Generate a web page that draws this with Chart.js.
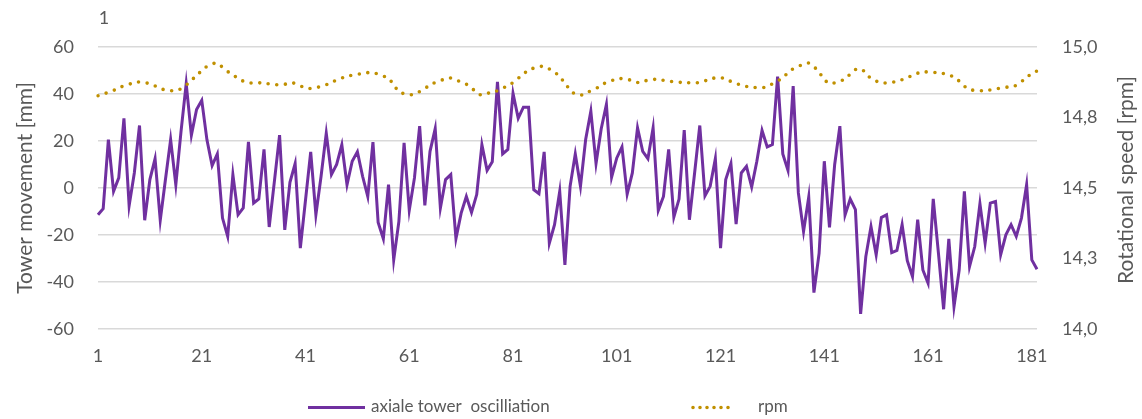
<!DOCTYPE html>
<html>
<head>
<meta charset="utf-8">
<script src="https://cdn.jsdelivr.net/npm/chart.js@4"></script>
<style>
    html, body { margin: 0; padding: 0; background: #fff; }
    #wrap { width: 1142px; height: 419px; }
</style>
</head>
<body>
<div id="wrap"><canvas id="towerChart" width="1142" height="419"></canvas></div>
<script>
// axial tower movement [mm], one value per sample
const tower = [
    -11.4, -8.8, 20.6, -1.4, 4.3, 29.6, -7.5, 6.4, 26.6, -13.7,
    3.6, 12.5, -13.7, 3.6, 20.6, 1.4, 24, 44.4, 22.5, 33.4,
    37.3, 20.5, 9.5, 14.5, -12.8, -20.6, 5.7, -11.4, -8.5, 19.6,
    -6.4, -4.7, 16.4, -16.6, 2.8, 22.5, -17.8, 2.4, 10.4, -25.6,
    -5.1, 15.4, -11.4, 5.0, 23.3, 5.7, 10.0, 18.4, 1.4, 11.4,
    15.4, 5.0, -3.6, 19.5, -14.7, -21.6, 1.4, -30.6, -14.2, 19.2,
    -9.5, 4.3, 26.3, -7.4, 15.6, 25.3, -8.5, 3.6, 5.7, -21.5,
    -10.7, -3.6, -10.4, -2.8, 18.4, 7.5, 11.2, 45.2, 14.5, 16.4,
    40.3, 29.7, 34.4, 34.4, -0.7, -2.4, 15.4, -23.5, -15.6, -1.4,
    -32.7, 0.7, 14.5, 0.7, 20.6, 32.7, 10.4, 25.2, 35.6, 4.6,
    12.8, 17.5, -2.6, 6.4, 25.6, 15.6, 12.5, 25.6, -9.5, -3.6,
    16.4, -12.4, -4.7, 24.6, -13.5, 6.4, 26.6, -3.3, 0.7, 12.5,
    -25.6, 3.6, 10.4, -15.4, 6.4, 9.2, 0.4, 11.4, 24.5, 17.5,
    18.5, 47.4, 14.5, 7.5, 43.4, -2.1, -18.5, -3.8, -44.5, -27.7,
    11.4, -16.8, 10.0, 26.3, -11.5, -4.7, -9.2, -53.6, -29.2, -16.4,
    -28.4, -12.5, -11.4, -27.5, -26.6, -15.6, -30.9, -37.7, -13.5, -34.9,
    -40.5, -4.6, -27.7, -51.6, -21.6, -50.5, -34.9, -1.4, -33.4, -24.9,
    -6.7, -23.5, -6.4, -5.7, -28.4, -19.9, -15.6, -20.6, -12.8, 1.4,
    -30.6, -34.6
];

// rotational speed [rpm]
const rpm = [
    14.827, 14.832, 14.840, 14.846, 14.855, 14.862, 14.868, 14.873, 14.876, 14.874,
    14.869, 14.862, 14.854, 14.847, 14.845, 14.847, 14.852, 14.865, 14.882, 14.899,
    14.916, 14.931, 14.940, 14.942, 14.928, 14.913, 14.901, 14.889, 14.879, 14.873,
    14.873, 14.873, 14.872, 14.869, 14.866, 14.867, 14.868, 14.872, 14.871, 14.862,
    14.856, 14.853, 14.856, 14.860, 14.866, 14.874, 14.883, 14.890, 14.896, 14.900,
    14.903, 14.906, 14.909, 14.909, 14.904, 14.897, 14.889, 14.865, 14.843, 14.834,
    14.830, 14.834, 14.842, 14.853, 14.865, 14.874, 14.881, 14.887, 14.890, 14.883,
    14.876, 14.868, 14.854, 14.840, 14.829, 14.835, 14.840, 14.845, 14.854, 14.863,
    14.874, 14.889, 14.904, 14.918, 14.925, 14.930, 14.931, 14.922, 14.911, 14.894,
    14.872, 14.848, 14.833, 14.829, 14.836, 14.845, 14.853, 14.865, 14.874, 14.881,
    14.886, 14.888, 14.885, 14.881, 14.874, 14.878, 14.882, 14.885, 14.885, 14.882,
    14.879, 14.877, 14.875, 14.874, 14.873, 14.873, 14.874, 14.880, 14.885, 14.891,
    14.892, 14.885, 14.878, 14.871, 14.865, 14.860, 14.857, 14.856, 14.855, 14.861,
    14.869, 14.879, 14.892, 14.908, 14.923, 14.932, 14.938, 14.943, 14.930, 14.910,
    14.885, 14.871, 14.873, 14.879, 14.887, 14.904, 14.920, 14.922, 14.908, 14.888,
    14.879, 14.875, 14.872, 14.874, 14.879, 14.884, 14.891, 14.900, 14.907, 14.912,
    14.911, 14.910, 14.909, 14.906, 14.901, 14.893, 14.879, 14.861, 14.850, 14.846,
    14.845, 14.846, 14.848, 14.851, 14.854, 14.857, 14.860, 14.864, 14.877, 14.892,
    14.906, 14.915
];

// sample numbers 1..n on the category axis
const samples = tower.map((v, i) => i + 1);

const textColor = '#595959';
const fontFamily = 'Lato, "Open Sans", sans-serif';

Chart.defaults.font.family = fontFamily;
Chart.defaults.color = textColor;

// Excel-like bits that Chart.js doesn't place the same way: the "1" caption,
// the right axis title reading upwards and the wide bottom legend.
const extras = {
    id: 'extras',
    afterDraw(chart) {
        const ctx = chart.ctx;
        const sets = chart.data.datasets;

        ctx.save();
        ctx.fillStyle = textColor;
        ctx.textBaseline = 'middle';
        ctx.textAlign = 'center';
        ctx.font = `18px ${fontFamily}`;
        ctx.fillText('1', 104, 18);

        ctx.save();
        ctx.translate(1126, 180);
        ctx.rotate(-Math.PI / 2);
        ctx.font = `21px ${fontFamily}`;
        ctx.fillText('Rotational speed [rpm]', 0, 0);
        ctx.restore();

        const items = [
            { set: sets[0], x1: 308, x2: 365, textX: 371, dash: [] },
            { set: sets[1], x1: 693, x2: 735, textX: 758, dash: [0, 7] },
        ];
        ctx.font = `17px ${fontFamily}`;
        ctx.textAlign = 'left';
        items.forEach((item) => {
            ctx.beginPath();
            ctx.strokeStyle = item.set.borderColor;
            ctx.lineWidth = item.set.borderWidth;
            ctx.lineCap = item.dash.length ? 'round' : 'butt';
            ctx.setLineDash(item.dash);
            ctx.moveTo(item.x1, 407.5);
            ctx.lineTo(item.x2, 407.5);
            ctx.stroke();
            ctx.fillText(item.set.label, item.textX, 407);
        });
        ctx.restore();
    },
};

new Chart(document.getElementById('towerChart'), {
    type: 'line',
    data: {
        labels: samples,
        datasets: [
            {
                label: 'axiale tower  oscilliation',
                data: tower,
                yAxisID: 'y',
                borderColor: '#7030a0',
                borderWidth: 3,
                pointRadius: 0,
                tension: 0,
                order: 1,
            },
            {
                label: 'rpm',
                data: rpm,
                yAxisID: 'y1',
                borderColor: '#c09000',
                borderWidth: 3.6,
                borderDash: [0, 8.6],
                borderCapStyle: 'round',
                pointRadius: 0,
                tension: 0.4,
                order: 0,
            },
        ],
    },
    options: {
        responsive: false,
        animation: false,
        layout: {
            padding: { top: 47, bottom: 0, left: 0, right: 0 },
        },
        plugins: {
            legend: { display: false },
            tooltip: { enabled: false },
        },
        scales: {
            x: {
                grid: { display: false, drawTicks: false },
                border: { display: false },
                ticks: {
                    autoSkip: false,
                    maxRotation: 0,
                    padding: 16,
                    font: { size: 18 },
                    callback: (value, index) => (index % 20 === 0 ? samples[index] : null),
                },
                afterFit: (scale) => { scale.height = 90; },
            },
            y: {
                min: -60,
                max: 60,
                ticks: { stepSize: 20, padding: 24, font: { size: 18 } },
                grid: { color: '#d9d9d9', lineWidth: 1.5, drawTicks: false },
                border: { display: false },
                title: {
                    display: true,
                    text: 'Tower movement [mm]',
                    font: { size: 21 },
                    padding: { top: 13, bottom: 0 },
                },
                afterFit: (scale) => { scale.width = 98; },
            },
            y1: {
                position: 'right',
                min: 14,
                max: 15,
                ticks: {
                    stepSize: 0.25,
                    padding: 25,
                    font: { size: 18 },
                    callback: (value) => value.toFixed(1).replace('.', ','),
                },
                grid: { display: false, drawTicks: false },
                border: { display: false },
                afterFit: (scale) => { scale.width = 105; },
            },
        },
    },
    plugins: [extras],
});
</script>
</body>
</html>
